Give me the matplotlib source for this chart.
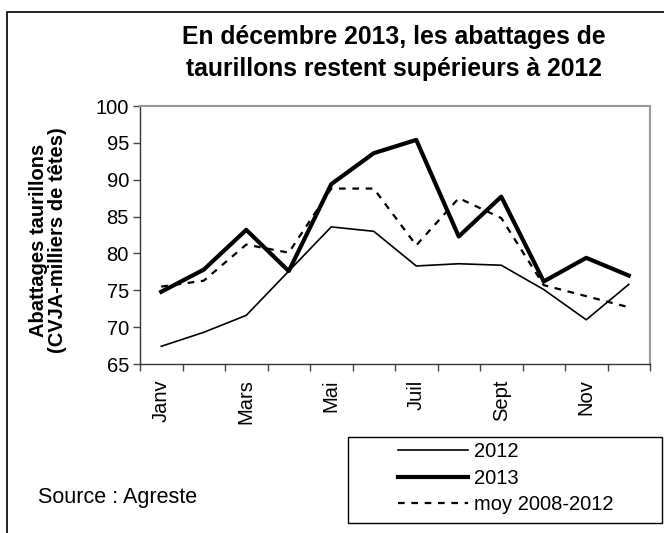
import matplotlib
matplotlib.use("Agg")
import matplotlib.pyplot as plt
from matplotlib.patches import Rectangle

plt.rcParams['font.family'] = ['Liberation Sans', 'DejaVu Sans']

months = ["Janv", "Févr", "Mars", "Avr", "Mai", "Juin", "Juil", "Août", "Sept", "Oct", "Nov", "Déc"]
shown_labels = ["Janv", "Mars", "Mai", "Juil", "Sept", "Nov"]
v2012 = [67.4, 69.3, 71.6, 77.6, 83.6, 83.0, 78.3, 78.6, 78.4, 75.1, 71.0, 75.8]
v2013 = [74.8, 77.8, 83.2, 77.6, 89.4, 93.6, 95.4, 82.3, 87.7, 76.2, 79.4, 77.0]
vmoy = [75.5, 76.3, 81.2, 80.1, 88.8, 88.8, 81.1, 87.5, 84.8, 75.7, 74.2, 72.7]
yticks = [65, 70, 75, 80, 85, 90, 95, 100]

W, H = 664, 533
FS = 14.5
fig = plt.figure(figsize=(W / 100, H / 100), dpi=100)
ax = fig.add_axes([140 / W, 1 - 364 / H, 510 / W, 258 / H])

x = [i + 0.5 for i in range(len(months))]
l1, = ax.plot(x, v2012, color='black', lw=1.2, label='2012')
l2, = ax.plot(x, v2013, color='black', lw=3.0, label='2013')
l3, = ax.plot(x, vmoy, color='black', lw=1.6, linestyle=(0, (3, 3)), label='moy 2008-2012')

ax.set_xlim(0, 12)
ax.set_ylim(65, 100)
ax.set_yticks(yticks)
ax.set_yticklabels([str(v) for v in yticks], fontsize=FS)
ax.set_xticks(range(13))
ax.set_xticklabels([])
ax.set_xticks([months.index(m) + 0.5 for m in shown_labels], minor=True)
ax.set_xticklabels(shown_labels, minor=True, rotation=90, fontsize=FS)
ax.tick_params(axis='x', which='minor', length=0, pad=11)
ax.tick_params(axis='x', which='major', direction='out', length=5, width=1, color='#444444')
ax.tick_params(axis='y', direction='out', length=5, width=1, color='#444444', pad=3)

for s in ['top', 'right']:
    ax.spines[s].set_color('#999999')
    ax.spines[s].set_linewidth(1.5)
for s in ['left', 'bottom']:
    ax.spines[s].set_color('#333333')
    ax.spines[s].set_linewidth(1.0)

fig.text(48 / W, 1 - 240 / H, "Abattages taurillons\n(CVJA-milliers de têtes)", rotation=90,
         ha='center', va='center', fontsize=FS, fontweight='bold', linespacing=1.05,
         multialignment='center')

fig.text(394 / W, 1 - 44 / H, "En décembre 2013, les abattages de",
         ha='center', va='baseline', fontsize=17.8, fontweight='bold')
fig.text(394 / W, 1 - 76 / H, "taurillons restent supérieurs à 2012",
         ha='center', va='baseline', fontsize=17.8, fontweight='bold')

fig.text(38 / W, 1 - 503 / H, "Source : Agreste", ha='left', va='baseline', fontsize=15.5)

# outer frame
fig.patches.append(Rectangle((7 / W, -0.01), 1.0, 1 - 12 / H + 0.01, transform=fig.transFigure,
                             fill=False, edgecolor='black', lw=1.2))
# legend frame
fig.patches.append(Rectangle((348 / W, 1 - 523 / H), 314 / W, 86 / H, transform=fig.transFigure,
                             fill=False, edgecolor='black', lw=1.0))

leg = fig.legend(handles=[l1, l2, l3], loc='upper left',
                 bbox_to_anchor=(398 / W, 1 - 442 / H),
                 fontsize=FS, frameon=False,
                 handlelength=3.5, handletextpad=0.25, borderpad=0, labelspacing=0.38,
                 borderaxespad=0)

fig.savefig('out.png', dpi=100)
